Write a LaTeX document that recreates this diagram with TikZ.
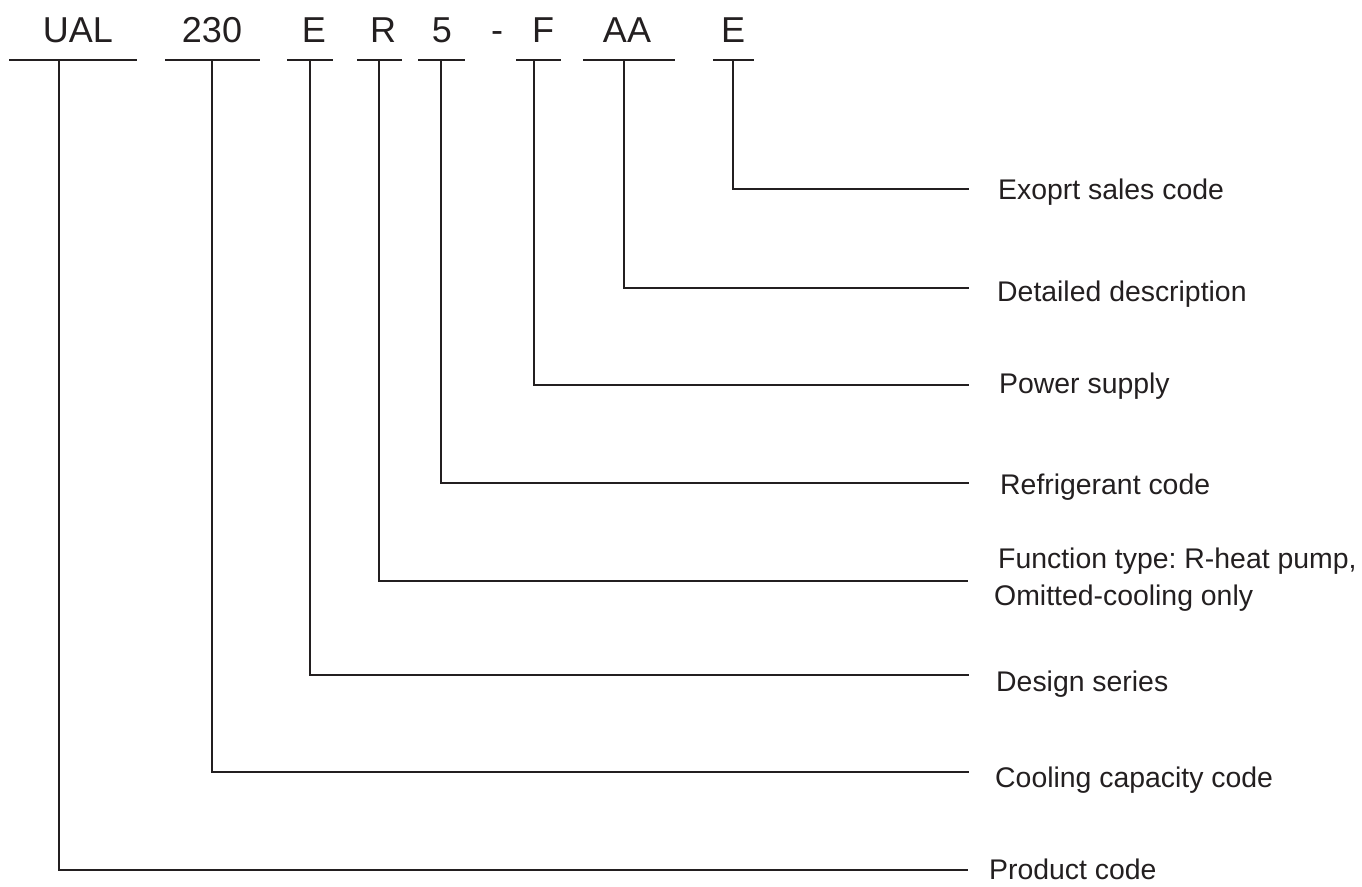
\documentclass[tikz,border=0pt]{standalone}
\usepackage{fontspec}
\setmainfont{Liberation Sans}
\frenchspacing
\definecolor{ink}{HTML}{231F20}
\begin{document}
\begin{tikzpicture}[x=1pt,y=-1pt,
  code/.style={inner sep=0pt, anchor=base, text=ink, font=\fontsize{36}{40}\selectfont},
  lbl/.style={inner sep=0pt, anchor=base west, text=ink, font=\fontsize{28.4}{37}\selectfont},
  rule/.style={draw=ink, line width=1.2pt},
  conn/.style={draw=ink, line width=1.2pt}]
\useasboundingbox (0,0) rectangle (1362,886);
% code letters
\node[code] (cUAL) at (78,42) {UAL};
\node[code] (c230) at (212,42) {230};
\node[code] (cE) at (314,42) {E};
\node[code] (cR) at (383,42) {R};
\node[code] (c5) at (442,42) {5};
\node[code] (cdash) at (497,42) {-};
\node[code] (cF) at (543,42) {F};
\node[code] (cAA) at (627,42) {AA};
\node[code] (cE2) at (733,42) {E};
% underlines
\draw[rule] (9,60) -- (137,60);
\draw[rule] (165,60) -- (260,60);
\draw[rule] (287,60) -- (333,60);
\draw[rule] (357,60) -- (402,60);
\draw[rule] (418,60) -- (465,60);
\draw[rule] (516,60) -- (561,60);
\draw[rule] (583,60) -- (675,60);
\draw[rule] (713,60) -- (754,60);
% tick points
\coordinate (tUAL) at (59,60);
\coordinate (t230) at (212,60);
\coordinate (tE) at (310,60);
\coordinate (tR) at (379,60);
\coordinate (t5) at (441,60);
\coordinate (tF) at (534,60);
\coordinate (tAA) at (624,60);
\coordinate (tE2) at (733,60);
% line ends
\coordinate (eExp) at (969,189);
\coordinate (eDet) at (969,288);
\coordinate (ePow) at (969,385);
\coordinate (eRef) at (969,483);
\coordinate (eFun) at (968,581);
\coordinate (eDes) at (969,675);
\coordinate (eCoo) at (969,772);
\coordinate (ePro) at (968,870);
% labels
\node[lbl] (lExp) at (998,199) {Exoprt sales code};
\node[lbl] (lDet) at (997,301) {Detailed description};
\node[lbl] (lPow) at (999,393) {Power supply};
\node[lbl] (lRef) at (1000,494) {Refrigerant code};
\node[lbl, anchor=north west, align=left] (lFun) at (994,548) {\hspace*{4pt}Function type: R-heat pump,\\Omitted-cooling only};
\node[lbl] (lDes) at (996,691) {Design series};
\node[lbl] (lCoo) at (995,787) {Cooling capacity code};
\node[lbl] (lPro) at (989,879) {Product code};
% connectors
\draw[conn] (tE2) |- (eExp);
\draw[conn] (tAA) |- (eDet);
\draw[conn] (tF) |- (ePow);
\draw[conn] (t5) |- (eRef);
\draw[conn] (tR) |- (eFun);
\draw[conn] (tE) |- (eDes);
\draw[conn] (t230) |- (eCoo);
\draw[conn] (tUAL) |- (ePro);
\end{tikzpicture}
\end{document}
